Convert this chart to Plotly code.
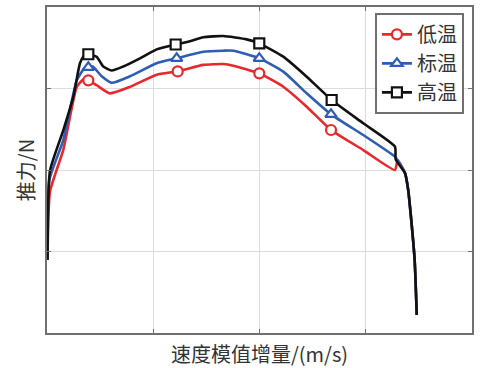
import plotly.graph_objects as go

# ---- data (arbitrary units; axes carry no tick labels) ----
x_high = [0.005, 0.028, 0.154, 0.248, 0.31, 0.342, 0.389, 0.467, 0.53, 0.609, 0.718, 0.875, 1.032, 1.211,
          1.346, 1.471, 1.659, 1.879, 1.998, 2.224, 2.444, 2.679, 2.977, 3.275, 3.282, 3.37, 3.40, 3.42, 3.46, 3.48]
y_high = [0.90, 1.99, 2.49, 2.90, 3.31, 3.39, 3.42, 3.39, 3.27, 3.22, 3.27, 3.37, 3.48, 3.54,
          3.58, 3.63, 3.644, 3.603, 3.554, 3.391, 3.145, 2.859, 2.573, 2.286, 2.13, 1.96, 1.75, 1.50, 0.90, 0.22]

x_std = [0.005, 0.022, 0.154, 0.28, 0.342, 0.389, 0.43, 0.515, 0.609, 0.781, 1.032, 1.22,
         1.471, 1.659, 1.754, 1.998, 2.224, 2.444, 2.673, 2.977, 3.275, 3.30, 3.37, 3.40, 3.42, 3.46, 3.48]
y_std = [0.90, 1.877, 2.37, 3.10, 3.23, 3.26, 3.27, 3.15, 3.07, 3.15, 3.31, 3.37,
         3.45, 3.464, 3.464, 3.37, 3.207, 2.941, 2.683, 2.429, 2.164, 2.12, 1.96, 1.75, 1.50, 0.90, 0.22]

x_low = [0.005, 0.028, 0.154, 0.28, 0.342, 0.389, 0.467, 0.593, 0.781, 1.032, 1.23,
         1.471, 1.659, 1.754, 1.998, 2.224, 2.444, 2.673, 2.977, 3.275, 3.30, 3.37, 3.40, 3.42, 3.46, 3.48]
y_low = [0.90, 1.734, 2.25, 3.02, 3.11, 3.10, 3.04, 2.94, 3.02, 3.17, 3.21,
         3.29, 3.30, 3.28, 3.186, 3.022, 2.777, 2.491, 2.245, 2.0, 2.12, 1.96, 1.75, 1.50, 0.90, 0.22]

# marker positions
mx_high = [0.389, 1.211, 1.998, 2.679]
my_high = [3.42, 3.54, 3.554, 2.859]
mx_std = [0.389, 1.22, 1.998, 2.673]
my_std = [3.26, 3.37, 3.37, 2.683]
mx_low = [0.389, 1.23, 1.998, 2.673]
my_low = [3.10, 3.21, 3.186, 2.491]

names = ["低温", "标温", "高温"]
colors = ["#e8282c", "#2d5db5", "#111111"]
symbols = ["circle", "triangle-up", "square"]

series = [(x_low, y_low, mx_low, my_low), (x_std, y_std, mx_std, my_std), (x_high, y_high, mx_high, my_high)]

fig = go.Figure()
for (xs, ys, _, _), c in zip(series, colors):
    fig.add_trace(go.Scatter(x=xs, y=ys, mode="lines", line=dict(color=c, width=2.6, shape="spline", smoothing=0.5),
                             showlegend=False, hoverinfo="skip"))
for (_, _, mx, my), c, s in zip(series, colors, symbols):
    fig.add_trace(go.Scatter(x=mx, y=my, mode="markers",
                             marker=dict(symbol=s, size=10, color="white", line=dict(color=c, width=2.2)),
                             showlegend=False, hoverinfo="skip"))
for n, c, s in zip(names, colors, symbols):
    fig.add_trace(go.Scatter(x=[None], y=[None], mode="lines+markers", name=n,
                             line=dict(color=c, width=2.6),
                             marker=dict(symbol=s, size=10, color="white", line=dict(color=c, width=2.2))))

axis_common = dict(showgrid=True, gridcolor="#dcdcdc", gridwidth=1, zeroline=False,
                   showline=True, linecolor="#707070", linewidth=2, mirror="ticks",
                   ticks="inside", ticklen=4, tickcolor="#707070", showticklabels=False, dtick=1,
                   automargin=False)

fig.update_layout(
    width=483, height=368,
    margin=dict(l=47, r=11, t=7, b=35),
    paper_bgcolor="white", plot_bgcolor="white",
    font=dict(family="Noto Sans CJK SC", color="#333"),
    xaxis=dict(range=[0, 4], title=dict(text="速度模值增量/(m/s)", font=dict(size=20), standoff=18), **axis_common),
    yaxis=dict(range=[0, 4], title=dict(text="推力/N", font=dict(size=20), standoff=5), **axis_common),
    legend=dict(x=0.981, y=0.982, xanchor="right", yanchor="top", bgcolor="white",
                bordercolor="#707070", borderwidth=2, font=dict(size=20, color="#333"),
                tracegroupgap=0),
)

fig.write_html("out.html", config={"displayModeBar": False},
               post_script="document.body.style.margin='0';")
